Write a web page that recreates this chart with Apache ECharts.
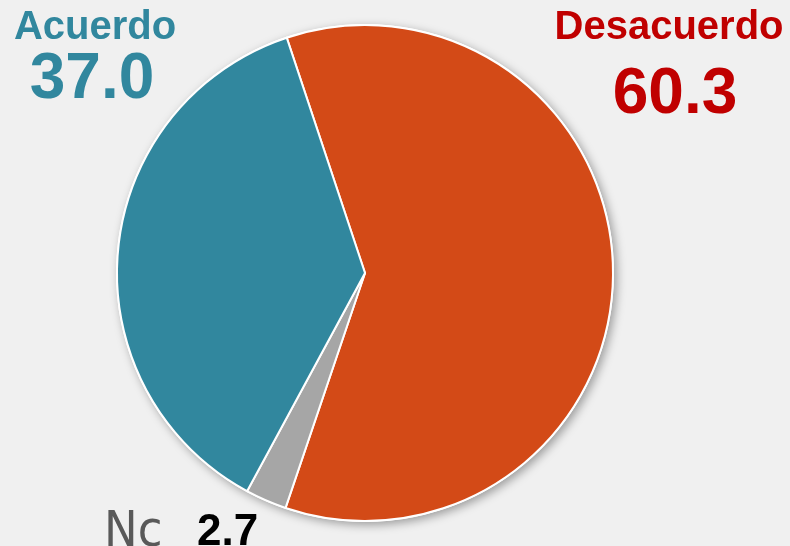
<!DOCTYPE html>
<html>
<head>
<meta charset="utf-8">
<title>Acuerdo / Desacuerdo</title>
<script src="https://cdn.jsdelivr.net/npm/echarts@6/dist/echarts.min.js"></script>
</head>
<body style="margin:0;background-color:#f0f0f0">
<div id="chart" style="width:790px;height:546px"></div>
<script type="text/javascript">
// datos
var names = ['Desacuerdo', 'Nc', 'Acuerdo'];
var values = [60.3, 2.7, 37.0];
var colors = ['#d34a17', '#a6a6a6', '#31879e'];

var myChart = echarts.init(document.getElementById('chart'));

var pieData = [];
var total = 0;
for (var i = 0; i < names.length; i++) {
  pieData.push({ name: names[i], value: values[i], itemStyle: { color: colors[i] } });
  total += values[i];
}

function fmt(v) { return v.toFixed(1); }

var option = {
  backgroundColor: '#f0f0f0',
  animation: false,
  series: [{
    // sombra del circulo completo
    type: 'pie',
    silent: true,
    z: 1,
    center: [365, 273],
    radius: 249,
    label: { show: false },
    labelLine: { show: false },
    itemStyle: {
      color: '#ffffff',
      shadowBlur: 10,
      shadowOffsetX: 3,
      shadowOffsetY: 3,
      shadowColor: 'rgba(0,0,0,0.35)'
    },
    data: [{ name: 'total', value: total }]
  }, {
    type: 'pie',
    z: 2,
    center: [365, 273],
    radius: 248,
    startAngle: 108.4,
    clockwise: true,
    label: { show: false },
    labelLine: { show: false },
    itemStyle: {
      borderColor: '#ffffff',
      borderWidth: 2
    },
    data: pieData
  }],
  graphic: [
    // Acuerdo
    { type: 'text', x: 95, y: 28, style: { text: names[2], fill: '#31879e', font: 'bold 40px "Liberation Sans"', align: 'center', verticalAlign: 'middle' } },
    { type: 'text', x: 92, y: 80, style: { text: fmt(values[2]), fill: '#31879e', font: 'bold 64px "Liberation Sans"', align: 'center', verticalAlign: 'middle' } },
    // Desacuerdo
    { type: 'text', x: 669, y: 28, style: { text: names[0], fill: '#c00000', font: 'bold 40px "Liberation Sans"', align: 'center', verticalAlign: 'middle' } },
    { type: 'text', x: 675, y: 95, style: { text: fmt(values[0]), fill: '#c00000', font: 'bold 64px "Liberation Sans"', align: 'center', verticalAlign: 'middle' } },
    // Nc
    { type: 'text', x: 104, y: 533, style: { text: names[1], fill: '#595959', font: '50px "Liberation Sans Narrow", "DejaVu Sans Condensed", "Liberation Sans"', align: 'left', verticalAlign: 'middle' } },
    { type: 'text', x: 197, y: 533, style: { text: fmt(values[1]), fill: '#000000', font: 'bold 44px "Liberation Sans"', align: 'left', verticalAlign: 'middle' } }
  ]
};

myChart.setOption(option);
</script>
</body>
</html>
